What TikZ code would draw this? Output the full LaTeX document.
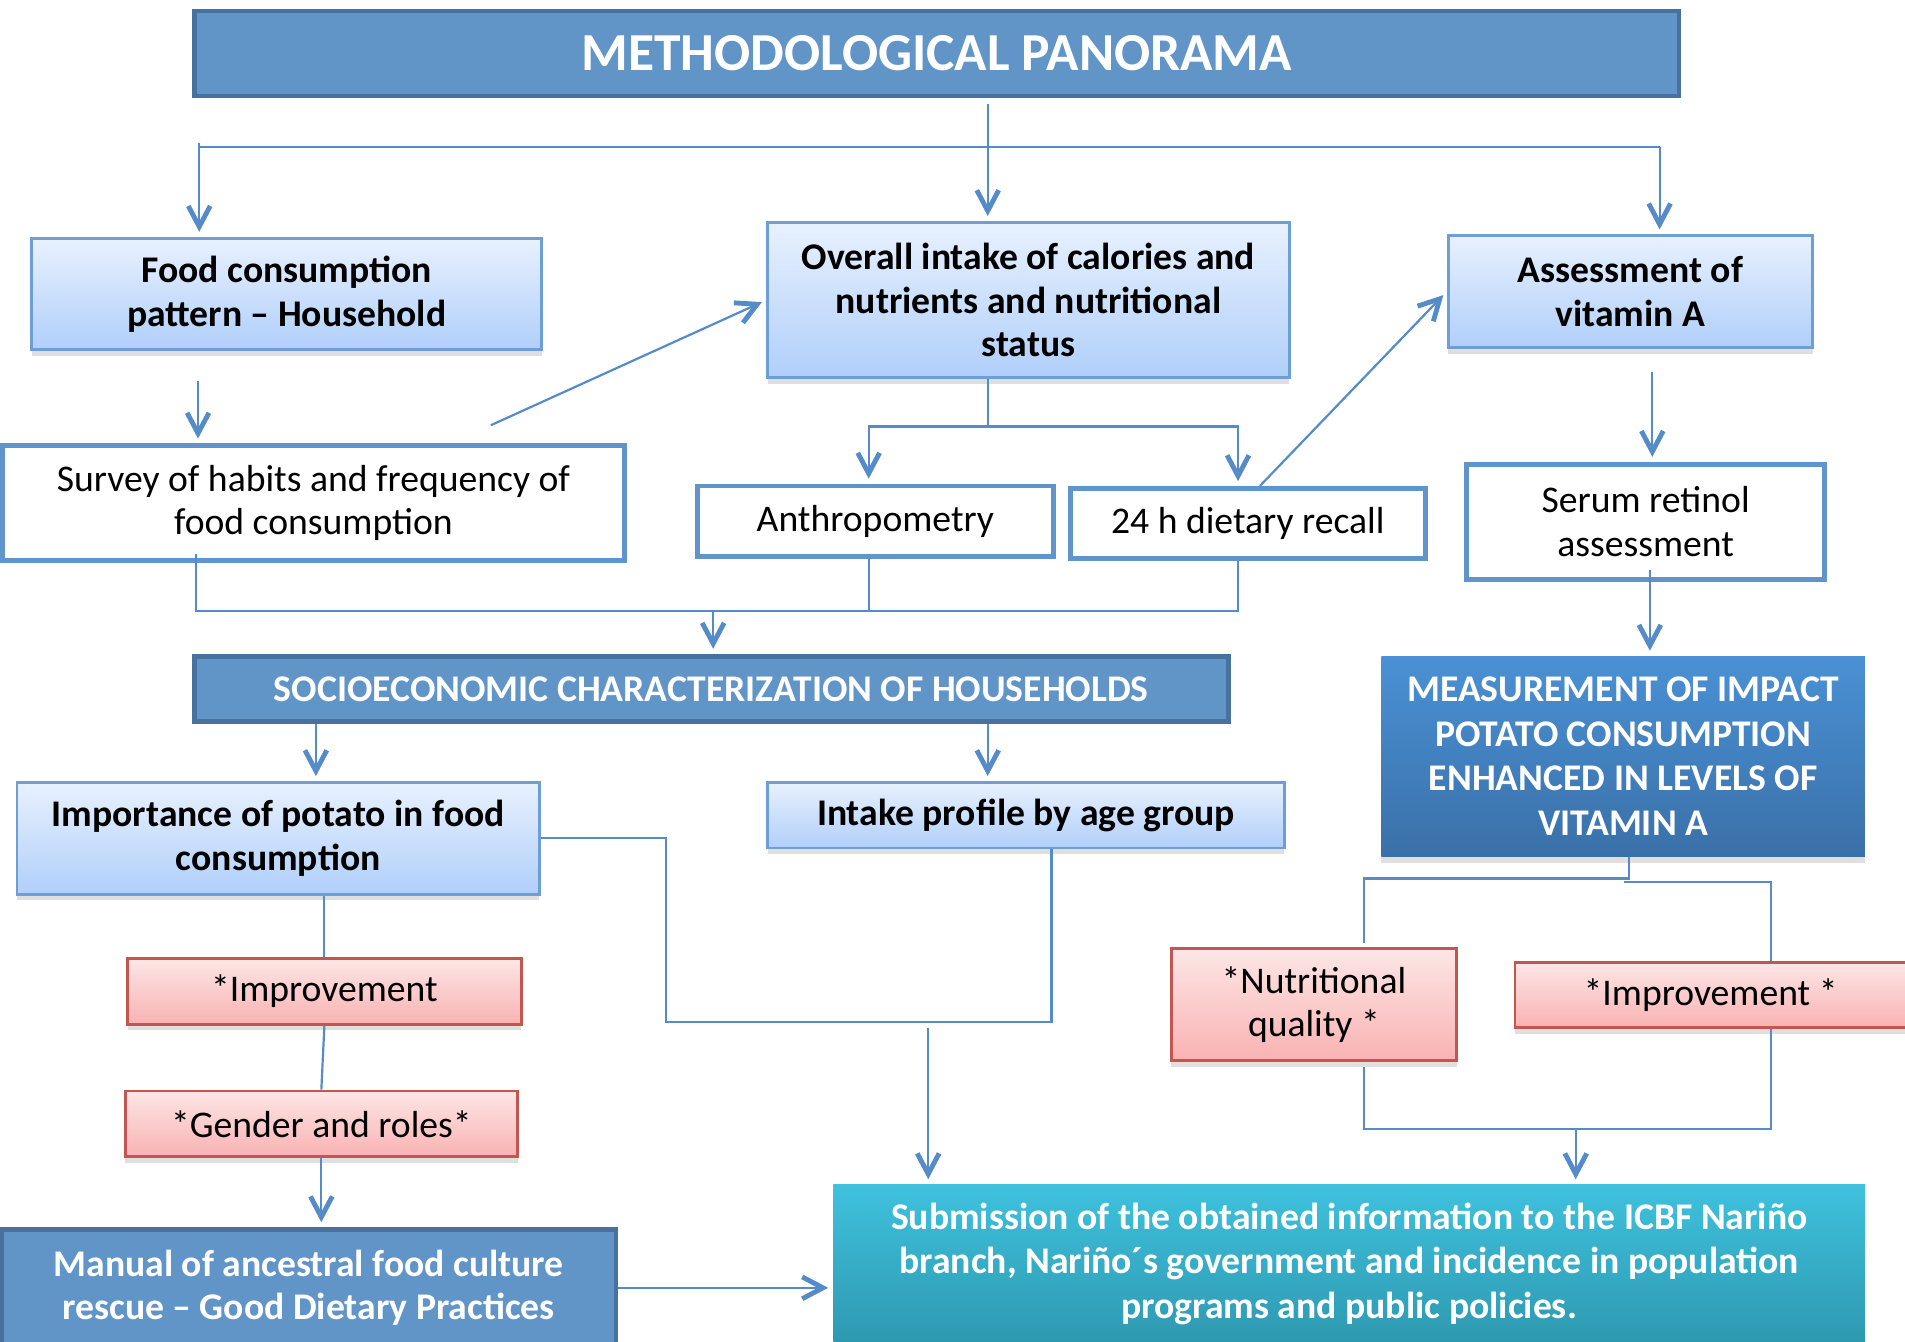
\documentclass[tikz,border=0pt]{standalone}
\usepackage{fontspec}
\setmainfont{Carlito}
\usetikzlibrary{arrows.meta,shadows}
\definecolor{linkblue}{RGB}{86,139,201}
\definecolor{headfill}{RGB}{97,149,200}
\definecolor{headline}{RGB}{72,114,158}
\definecolor{paletop}{RGB}{232,241,254}
\definecolor{palebot}{RGB}{176,207,250}
\definecolor{paleline}{RGB}{110,158,214}
\definecolor{plainline}{RGB}{98,148,204}
\definecolor{pinktop}{RGB}{253,230,230}
\definecolor{pinkbot}{RGB}{249,178,178}
\definecolor{pinkline}{RGB}{196,86,82}
\definecolor{impacttop}{RGB}{74,145,213}
\definecolor{impactbot}{RGB}{58,112,168}
\definecolor{sendtop}{RGB}{63,193,222}
\definecolor{sendbot}{RGB}{46,153,176}
\begin{document}
\begin{tikzpicture}[x=0.5pt,y=-0.5pt,
		conn/.style={draw=linkblue,line width=0.9pt},
		arr/.style={conn,-{Straight Barb[length=8.5pt,width=9pt,line width=2pt]},shorten >=2pt},
		txt/.style={align=center,font=\fontsize{15.5}{18}\selectfont},
		head/.style={txt,draw=headline,line width=2pt,fill=headfill,text=white,font=\bfseries\fontsize{15.5}{18}\selectfont},
		pale/.style={txt,draw=paleline,line width=1.2pt,top color=paletop,bottom color=palebot,font=\bfseries\fontsize{15.5}{18}\selectfont,
			drop shadow={shadow xshift=0pt,shadow yshift=-2.5pt,opacity=0.25}},
		plain/.style={txt,draw=plainline,line width=2pt,fill=white},
		pinkbox/.style={txt,draw=pinkline,line width=1.2pt,top color=pinktop,bottom color=pinkbot,
			drop shadow={shadow xshift=0pt,shadow yshift=-2.5pt,opacity=0.25}},
		impact/.style={txt,top color=impacttop,bottom color=impactbot,text=white,font=\bfseries\fontsize{15.5}{18.3}\selectfont,
			drop shadow={shadow xshift=0pt,shadow yshift=-2.5pt,opacity=0.25}},
		send/.style={txt,top color=sendtop,bottom color=sendbot,text=white,font=\bfseries\fontsize{15.5}{18.3}\selectfont}]
	\useasboundingbox[fill=white] (0,0) rectangle (1568,1104);
	% boxes
	\node[head,minimum width=611pt,minimum height=35pt,font=\bfseries\fontsize{22}{26}\selectfont] (title) at (771,44) {METHODOLOGICAL PANORAMA};
	\node[pale,minimum width=210pt,minimum height=46pt] (food) at (236,242) {Food consumption\\pattern -- Household};
	\node[pale,minimum width=214.5pt,minimum height=64pt] (overall) at (846.5,247) {Overall intake of calories and\\nutrients and nutritional\\status};
	\node[pale,minimum width=150pt,minimum height=46pt] (vita) at (1342,240) {Assessment of\\vitamin A};
	\node[plain,minimum width=256pt,minimum height=47pt] (survey) at (258,414) {Survey of habits and frequency of\\food consumption};
	\node[plain,minimum width=146.5pt,minimum height=29pt] (anthro) at (720.5,429) {Anthropometry};
	\node[plain,minimum width=146pt,minimum height=29pt] (recall) at (1027,431) {24 h dietary recall};
	\node[plain,minimum width=147.5pt,minimum height=47.5pt] (serum) at (1354.5,429.5) {Serum retinol\\assessment};
	\node[head,minimum width=425.5pt,minimum height=27pt] (socio) at (585.5,567) {SOCIOECONOMIC CHARACTERIZATION OF HOUSEHOLDS};
	\node[impact,minimum width=199pt,minimum height=82.5pt] (measure) at (1336,622.5) {MEASUREMENT OF IMPACT\\POTATO CONSUMPTION\\ENHANCED IN LEVELS OF\\VITAMIN A};
	\node[pale,minimum width=215pt,minimum height=46pt] (potato) at (229,690) {Importance of potato in food\\consumption};
	\node[pale,minimum width=212.5pt,minimum height=27pt] (profile) at (844.5,671) {Intake profile by age group};
	\node[pinkbox,minimum width=162pt,minimum height=27pt] (impL) at (267,816) {*Improvement};
	\node[pinkbox,minimum width=161.5pt,minimum height=27pt] (gender) at (264.5,925) {*Gender and roles*};
	\node[pinkbox,minimum width=117.5pt,minimum height=46pt] (nutri) at (1081.5,827) {*Nutritional\\quality *};
	\node[pinkbox,minimum width=161pt,minimum height=27pt] (impR) at (1408,819) {*Improvement *};
	\node[head,minimum width=253pt,minimum height=48pt] (manual) at (254,1060) {Manual of ancestral food culture\\rescue -- Good Dietary Practices};
	\node[send,minimum width=424.5pt,minimum height=65pt] (submit) at (1110.5,1040) {Submission of the obtained information to the ICBF Nariño\\branch, Nariño´s government and incidence in population\\programs and public policies.};
	% top level
	\coordinate (busL) at (164,121);
	\coordinate (busM) at (813,121);
	\coordinate (busR) at (1366,121);
	\draw[conn] (busL) -- (busR);
	\draw[arr] ([yshift=-2.5pt]title.south -| busM) -- (busM |- overall.north);
	\draw[arr] ([yshift=1.5pt]busL) -- (busL |- food.north);
	\draw[arr] (busR) -- (busR |- vita.north);
	\draw[arr] ([xshift=-36.5pt,yshift=-12pt]food.south) coordinate (fs) -- (fs |- survey.north);
	\draw[arr] ([xshift=73pt,yshift=7.5pt]survey.north) -- (overall.west);
	% overall intake branches
	\coordinate (ob) at (813,351);
	\draw[conn] (overall.south -| ob) -- (ob);
	\draw[arr] (ob) -| ([xshift=-2.75pt]anthro.north);
	\draw[arr] (ob) -| ([xshift=-4pt]recall.north);
	\draw[arr] ([xshift=5pt]recall.north) -- (vita.west);
	\draw[arr] ([xshift=9pt,yshift=-9.5pt]vita.south) coordinate (vs) -- (vs |- serum.north);
	\draw[arr] ([xshift=1.75pt,yshift=5pt]serum.south) coordinate (ss) -- (ss |- measure.north);
	% into socioeconomic
	\coordinate (lb) at (161,503);
	\coordinate (rb) at (1019,503);
	\coordinate (sb) at (587,503);
	\draw[conn] ([yshift=3.5pt]survey.south -| lb) -- (lb) -- (rb) -- (recall.south -| rb);
	\draw[conn] ([xshift=-2.75pt]anthro.south) coordinate (as) -- (as |- lb);
	\draw[arr] (sb) -- (sb |- socio.north);
	\foreach \x/\n in {260/potato, 813/profile}
	\draw[arr] (socio.south -| \x,0) -- (\x,0 |- \n.north);
	% left column
	\draw[conn] (potato.south -| impL.north) -- (impL.north);
	\draw[conn] (impL.south) -- (gender.north);
	\draw[arr] (gender.south) -- (gender.south |- manual.north);
	\draw[arr] (manual.east) -- (submit.west |- manual.east);
	\draw[conn] (potato.east) -| (548,841) -| ([xshift=10.5pt]profile.south);
	\draw[arr] (764,846) -- (764,0 |- submit.north);
	% right column
	\draw[conn] ([xshift=2.5pt]measure.south) |- (1123,723) -- ([xshift=20.75pt,yshift=2pt]nutri.north);
	\draw[conn] (1337,726) -| ([xshift=25pt]impR.north);
	\draw[conn] ([xshift=20.75pt,yshift=-2pt]nutri.south) |- (1458,929) -- ([xshift=25pt]impR.south);
	\draw[arr] (1297,929) -- (1297,0 |- submit.north);
\end{tikzpicture}
\end{document}
